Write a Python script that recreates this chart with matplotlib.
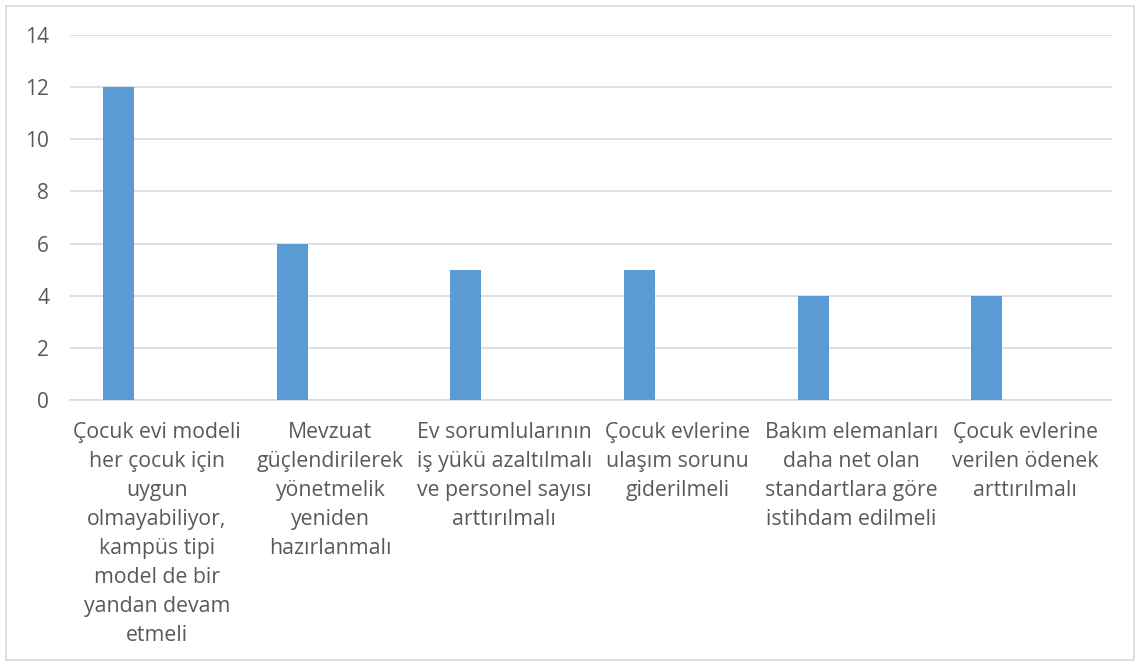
import matplotlib
matplotlib.use("Agg")
import matplotlib.pyplot as plt
from matplotlib.patches import Rectangle

categories = [
    "Çocuk evi modeli\nher çocuk için\nuygun\nolmayabiliyor,\nkampüs tipi\nmodel de bir\nyandan devam\netmeli",
    "Mevzuat\ngüçlendirilerek\nyönetmelik\nyeniden\nhazırlanmalı",
    "Ev sorumlularının\niş yükü azaltılmalı\nve personel sayısı\narttırılmalı",
    "Çocuk evlerine\nulaşım sorunu\ngiderilmeli",
    "Bakım elemanları\ndaha net olan\nstandartlara göre\nistihdam edilmeli",
    "Çocuk evlerine\nverilen ödenek\narttırılmalı",
]
values = [12, 6, 5, 5, 4, 4]
yticks = [0, 2, 4, 6, 8, 10, 12, 14]

plt.rcParams['font.family'] = ['Open Sans', 'DejaVu Sans']
text_color = '#595959'

fig = plt.figure(figsize=(11.39, 6.64), dpi=100)
W, H = 1139, 664
ax = fig.add_axes([70 / W, 264 / H, (1112 - 70) / W, (629 - 264) / H])

x = list(range(len(values)))
bar_x = [i - 0.221 for i in x]
ax.bar(bar_x, values, width=0.178, color='#5b9bd5', zorder=3)

ax.set_xlim(-0.5, len(values) - 0.5)
ax.set_ylim(0, 14)
ax.set_yticks(yticks)
ax.set_yticklabels([str(v) for v in yticks], fontsize=15, color=text_color)
ax.set_xticks(x)
ax.set_xticklabels(categories, fontsize=15.3, color=text_color, linespacing=1.5, va='top', ha='center')
ax.tick_params(axis='both', length=0)
ax.tick_params(axis='y', pad=15)
ax.tick_params(axis='x', pad=16)
ax.grid(axis='y', color='#d9d9d9', linewidth=1.2, zorder=0)
for s in ['top', 'right', 'left']:
    ax.spines[s].set_visible(False)
ax.spines['bottom'].set_color('#d9d9d9')
ax.spines['bottom'].set_linewidth(1.2)

fig.patches.append(Rectangle((6 / W, 4 / H), (1134 - 6) / W, (658 - 4) / H,
                             transform=fig.transFigure, fill=False,
                             edgecolor='#d9d9d9', linewidth=1.2))

fig.savefig('out.png', dpi=100)
